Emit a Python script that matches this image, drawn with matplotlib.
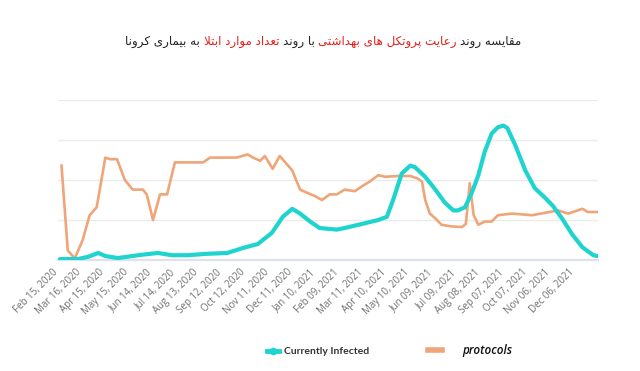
import numpy as np
import pandas as pd
import matplotlib
matplotlib.use("Agg")
import matplotlib.pyplot as plt
from matplotlib.lines import Line2D
from matplotlib.offsetbox import TextArea, HPacker, AnchoredOffsetbox

# data: days after Feb 15, 2020, values in grid units (0-100)
start = pd.Timestamp("2020-02-15")

infected_days = [0, 23, 36, 49, 58, 74, 100, 125, 143, 164, 185, 214, 234, 253, 271,
                 285, 297, 307, 320, 332, 354, 364, 386, 407, 418, 426, 437, 448, 454,
                 467, 480, 492, 503, 509, 518, 527, 535, 543, 552, 560, 567, 572, 582,
                 595, 607, 620, 630, 642, 655, 668, 682, 687]
infected = [0.6, 0.6, 2, 4.4, 2.5, 1.2, 3, 4.4, 3, 3, 3.8, 4.4, 7.5, 10, 17,
            27, 32, 29, 24, 20, 19, 20, 22.5, 25, 27, 37.5, 54, 59, 58,
            52, 44, 36, 31, 31, 33, 42.5, 53, 67.5, 79, 83, 84, 82.5, 72,
            56, 45, 39, 34, 26, 16, 8, 3, 2.5]

protocol_days = [2, 10, 19, 29, 38, 47, 58, 64, 73, 83, 93, 106, 111, 119, 128, 137,
                 147, 164, 183, 192, 208, 226, 240, 247, 256, 262, 272, 281, 297, 307,
                 316, 326, 335, 345, 354, 364, 377, 386, 396, 407, 416, 432, 448, 457,
                 463, 467, 473, 480, 488, 501, 514, 519, 524, 529, 535, 543, 552, 560,
                 578, 604, 637, 650, 668, 675, 687]
protocols = [59, 6, 1, 12.5, 28, 33, 64, 63, 63, 50, 44, 44, 41, 25, 41, 41,
             61, 61, 61, 64, 64, 64, 66, 64, 62, 65, 57, 65, 56, 44,
             42, 40, 37.5, 41, 41, 44, 43, 46, 49, 53, 52, 52.5, 52.5, 51,
             49, 37.5, 29, 26, 22, 21, 20.6, 22.5, 48, 28, 22, 24, 24, 28,
             29, 28, 31, 29, 32, 30, 30]

tick_dates = pd.date_range("2020-02-15", "2021-12-06", freq="30D")

# title pieces in reading order, with their colours
title_parts = [("مقایسه روند", "#222222"),
               ("رعایت پروتکل های بهداشتی", "#e3211c"),
               ("با روند", "#222222"),
               ("تعداد موارد ابتلا", "#e3211c"),
               ("به بیماری کرونا", "#222222")]

# ---- small Persian shaper (matplotlib does no Arabic shaping) ----
FORMS = {
    'ا': ('\uFE8D', '\uFE8E', None, None),
    'ب': ('\uFE8F', '\uFE90', '\uFE91', '\uFE92'),
    'پ': ('\uFB56', '\uFB57', '\uFB58', '\uFB59'),
    'ت': ('\uFE95', '\uFE96', '\uFE97', '\uFE98'),
    'د': ('\uFEA9', '\uFEAA', None, None),
    'ر': ('\uFEAD', '\uFEAE', None, None),
    'س': ('\uFEB1', '\uFEB2', '\uFEB3', '\uFEB4'),
    'ش': ('\uFEB5', '\uFEB6', '\uFEB7', '\uFEB8'),
    'ع': ('\uFEC9', '\uFECA', '\uFECB', '\uFECC'),
    'ق': ('\uFED5', '\uFED6', '\uFED7', '\uFED8'),
    'ک': ('\uFB8E', '\uFB8F', '\uFB90', '\uFB91'),
    'ل': ('\uFEDD', '\uFEDE', '\uFEDF', '\uFEE0'),
    'م': ('\uFEE1', '\uFEE2', '\uFEE3', '\uFEE4'),
    'ن': ('\uFEE5', '\uFEE6', '\uFEE7', '\uFEE8'),
    'و': ('\uFEED', '\uFEEE', None, None),
    'ه': ('\uFEE9', '\uFEEA', '\uFEEB', '\uFEEC'),
    'ی': ('\uFBFC', '\uFBFD', '\uFBFE', '\uFBFF'),
}


def shape(text):
    out = []
    chars = list(text)
    i = 0
    while i < len(chars):
        c = chars[i]
        if c not in FORMS:
            out.append(c)
            i += 1
            continue
        prev = chars[i - 1] if i > 0 else None
        joins_prev = prev in FORMS and FORMS[prev][2] is not None
        if c == 'ل' and i + 1 < len(chars) and chars[i + 1] == 'ا':
            out.append('\uFEFC' if joins_prev else '\uFEFB')
            i += 2
            continue
        nxt = chars[i + 1] if i + 1 < len(chars) else None
        joins_next = nxt in FORMS and FORMS[c][2] is not None
        iso, fin, ini, med = FORMS[c]
        if joins_prev and joins_next:
            out.append(med)
        elif joins_prev:
            out.append(fin)
        elif joins_next:
            out.append(ini)
        else:
            out.append(iso)
        i += 1
    return ''.join(out)[::-1]


cyan = "#1fd4cf"
orange = "#efa577"

fig = plt.figure(figsize=(6.4, 3.71), dpi=100)
ax = fig.add_axes([58 / 640, 111 / 371, 540 / 640, 160 / 371])

x_inf = start + pd.to_timedelta(infected_days, unit="D")
x_pro = start + pd.to_timedelta(protocol_days, unit="D")
ax.plot(x_pro, protocols, color=orange, lw=1.9, solid_joinstyle="round", zorder=3)
ax.plot(x_inf, infected, color=cyan, lw=3.0, solid_joinstyle="round",
        solid_capstyle="round", zorder=4)

ax.set_xlim(start - pd.Timedelta(days=2.5), start + pd.Timedelta(days=688))
ax.set_ylim(0, 100)
ax.set_yticks([25, 50, 75, 100])
ax.set_yticklabels([])
ax.grid(axis="y", color="#ebebeb", lw=1)
ax.set_axisbelow(True)
for s in ["top", "right", "left"]:
    ax.spines[s].set_visible(False)
ax.spines["bottom"].set_color("#dde2ee")
ax.spines["bottom"].set_linewidth(1.6)

ax.set_xticks(tick_dates)
ax.set_xticklabels([d.strftime("%b %d, %Y") for d in tick_dates], rotation=45,
                   ha="right", fontsize=7, color="#707070", family="Open Sans")
ax.tick_params(length=0, pad=5)

# title with coloured pieces, laid out right to left
boxes = [TextArea(shape(t), textprops=dict(color=c, fontsize=8.6, family="DejaVu Sans"))
         for t, c in reversed(title_parts)]
pack = HPacker(children=boxes, align="baseline", pad=0, sep=2.5)
fig.add_artist(AnchoredOffsetbox(loc="center", child=pack, frameon=False, pad=0,
                                 bbox_to_anchor=(0.505, 0.887),
                                 bbox_transform=fig.transFigure))

# legend: two entries placed apart like the original
leg1 = fig.legend([Line2D([], [], color=cyan, lw=3.5, marker="o", markersize=4.5)],
                  ["Currently Infected"], loc="center", bbox_to_anchor=(0.497, 0.052),
                  frameon=False, handlelength=1.1, handletextpad=0.5,
                  prop=dict(family="Lato", weight="bold", size=7.5))
leg1.get_texts()[0].set_color("#333333")
leg2 = fig.legend([Line2D([], [], color=orange, lw=4)], ["protocols"], loc="center",
                  bbox_to_anchor=(0.735, 0.054), frameon=False, handlelength=1.2,
                  handletextpad=1.7,
                  prop=dict(family="Open Sans", style="italic", weight="semibold", size=8.5))
leg2.get_texts()[0].set_color("#111111")

fig.savefig("out.png", dpi=100, facecolor="white")
